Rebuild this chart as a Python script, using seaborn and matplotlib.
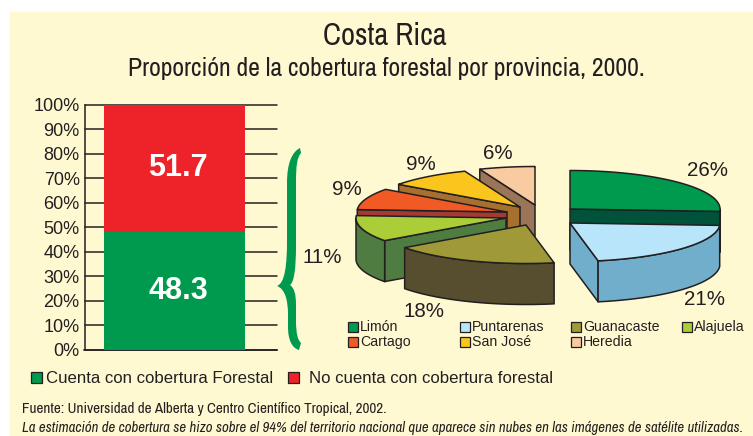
import numpy as np
import matplotlib
matplotlib.use("Agg")
import matplotlib.pyplot as plt
import seaborn as sns
from matplotlib.patches import PathPatch, Polygon, Rectangle
from matplotlib.path import Path

# Datos
bar_label = ["Costa Rica"]
con_cobertura = [48.3]
sin_cobertura = [51.7]
y_ticks = [0, 10, 20, 30, 40, 50, 60, 70, 80, 90, 100]

provincias = ["Limón", "Puntarenas", "Guanacaste", "Alajuela", "Cartago", "San José", "Heredia"]
porcentajes = [26, 21, 18, 11, 9, 9, 6]

# Estilo de cada porcion
top_colors = ["#009A4E", "#B9E5FB", "#9F9A37", "#ABCD37", "#F15A24", "#FAC51C", "#F8CBA0"]
side_colors = ["#00533A", "#70AECB", "#574D2F", "#4F7D41", "#A33A35", "#A8702F", "#9A7558"]
centers = [(570, 209), (570, 223), (526, 225), (506, 218), (507, 212), (520, 207), (535, 205)]
draw_order = [6, 5, 4, 3, 2, 0, 1]

BG = "#FFF9D2"
INK = "#231F20"
GREEN = "#009A4E"
RED = "#EE2229"
W, H = 753, 436
RX, RY, DEPTH = 150, 38.5, 41

sns.set_theme(style="white")
narrow = ["Archivo Narrow", "Liberation Sans"]
plt.rcParams["font.family"] = ["Liberation Sans", "DejaVu Sans"]

fig = plt.figure(figsize=(W / 100, H / 100), dpi=100, facecolor="white")
fig.patches.append(Rectangle((10 / W, 0), 1, 1 - 12 / H, transform=fig.transFigure, color=BG, zorder=-5))

# Barra apilada
ax = fig.add_axes([84.5 / W, 1 - 350 / H, 192.5 / W, 245.3 / H], facecolor="none")
totales = [a + b for a, b in zip(con_cobertura, sin_cobertura)]
sns.barplot(x=bar_label, y=totales, color=RED, saturation=1, width=0.8, linewidth=0, ax=ax, zorder=3)
sns.barplot(x=bar_label, y=con_cobertura, color=GREEN, saturation=1, width=0.8, linewidth=0, ax=ax, zorder=3)
ax.set_xlim(-0.511, 0.582)
ax.set_ylim(0, 100)
ax.set_yticks(y_ticks)
ax.set_yticklabels([f"{t}%" for t in y_ticks], fontsize=13, color=INK)
ax.set_xticks([])
ax.set_xlabel("")
ax.set_ylabel("")
ax.grid(axis="y", color=INK, lw=1.1, zorder=1)
ax.set_axisbelow(True)
for line in ax.get_ygridlines():
    line.set_clip_on(False)
ax.tick_params(axis="y", length=0, pad=3.5)
sns.despine(ax=ax, top=True, right=True, bottom=False)
for side in ["left", "bottom"]:
    ax.spines[side].set_color(INK)
    ax.spines[side].set_linewidth(1.1)
ax.text(0.02, con_cobertura[0] / 2, f"{con_cobertura[0]}", color="white", ha="center", va="center",
        fontsize=22, fontweight="bold", zorder=5)
ax.text(0.02, con_cobertura[0] + sin_cobertura[0] / 2, f"{sin_cobertura[0]}", color="white", ha="center",
        va="center", fontsize=22, fontweight="bold", zorder=5)

# Capa en pixeles para el pastel y los textos
ov = fig.add_axes([0, 0, 1, 1], facecolor="none")
ov.set_xlim(0, W)
ov.set_ylim(H, 0)
ov.axis("off")


def rim(cx, cy, a, b, drop=0.0):
    t = np.radians(np.linspace(a, b, 60))
    return np.column_stack([cx + RX * np.sin(t), cy - RY * np.cos(t) + drop])


def draw_slice(i, a, b):
    cx, cy = centers[i]
    style = dict(ec=INK, lw=1.1, joinstyle="round")
    # caras radiales visibles
    for ang, visible in ((a, np.sin(np.radians(a)) < 0), (b, np.sin(np.radians(b)) > 0)):
        if visible:
            p = rim(cx, cy, ang, ang)[0]
            ov.add_patch(Polygon([(cx, cy), p, p + (0, DEPTH), (cx, cy + DEPTH)], fc=side_colors[i], **style))
    # borde exterior
    lo, hi = max(a, 90), min(b, 270)
    if hi > lo:
        upper = rim(cx, cy, lo, hi)
        lower = rim(cx, cy, lo, hi, DEPTH)
        ov.add_patch(Polygon(np.vstack([upper, lower[::-1]]), fc=side_colors[i], **style))
    ov.add_patch(Polygon(np.vstack([[(cx, cy)], rim(cx, cy, a, b)]), fc=top_colors[i], **style))


edges = np.concatenate([[0], np.cumsum(porcentajes)]) * 3.6
for i in draw_order:
    draw_slice(i, edges[i], edges[i + 1])

pct_pos = [(708, 170), (705, 299), (424, 311), (322, 257), (347, 189), (421, 164), (498, 153)]
for v, (x, y) in zip(porcentajes, pct_pos):
    ov.text(x, y, f"{v}%", fontsize=14.8, color=INK, ha="center", va="center")

# Llave verde
brace = [(300, 148),
         (292, 152), (287, 163), (287, 183), (287, 240),
         (287, 265), (285, 283), (277, 286),
         (285, 289), (288, 300), (288, 315), (288, 327),
         (288, 340), (292, 348), (299, 350), (301, 343),
         (298, 340), (296, 335), (296, 320), (296, 305),
         (296, 293), (294, 288), (290, 285),
         (294, 282), (296, 270), (296, 245), (296, 183),
         (296, 165), (297, 158), (301, 153), (300, 148)]
codes = [Path.MOVETO] + [Path.CURVE4] * 3 + [Path.LINETO] + [Path.CURVE4] * 6 + [Path.LINETO] \
    + [Path.CURVE4] * 3 + [Path.LINETO] + [Path.CURVE4] * 3 + [Path.LINETO] + [Path.CURVE4] * 6 \
    + [Path.LINETO] + [Path.CURVE4] * 3 + [Path.LINETO]
ov.add_patch(PathPatch(Path(brace, codes), fc=GREEN, ec="none"))

# Leyenda del pastel
leg_x = [348, 460, 571, 682, 348, 460, 571]
leg_y = [327, 327, 327, 327, 342, 342, 342]
for name, col, x, y in zip(provincias, top_colors, leg_x, leg_y):
    ov.add_patch(Rectangle((x, y - 5), 10, 10, fc=col, ec=INK, lw=0.9))
    ov.text(x + 12, y, name, fontsize=10.2, color=INK, va="center", ha="left")

# Leyenda de la barra
bar_legend = [("Cuenta con cobertura Forestal", GREEN, 31, 46), ("No cuenta con cobertura forestal", RED, 288, 309)]
for name, col, sx, tx in bar_legend:
    ov.add_patch(Rectangle((sx, 372), 11, 11, fc=col, ec=INK, lw=0.9))
    ov.text(tx, 378, name, fontsize=12.1, color=INK, va="center", ha="left")

ov.text(385, 36, "Costa Rica", fontsize=22, color=INK, ha="center", va="center", family=narrow)
ov.text(386, 68, "Proporción de la cobertura forestal por provincia, 2000.", fontsize=18.5, color=INK,
        ha="center", va="center", family=narrow)
ov.text(22, 409, "Fuente: Universidad de Alberta y Centro Científico Tropical, 2002.", fontsize=10.85,
        color=INK, va="center", family=narrow)
ov.text(22, 428, "La estimación de cobertura se hizo sobre el 94% del territorio nacional que aparece sin nubes en las imágenes de satélite utilizadas.",
        fontsize=10.7, color=INK, va="center", style="italic", family=narrow)

fig.savefig("out.png", dpi=100, facecolor="white")
